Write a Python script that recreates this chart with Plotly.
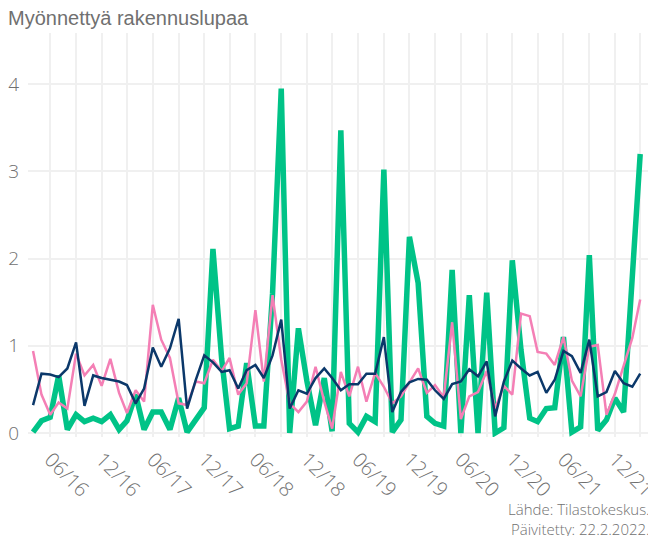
import pandas as pd
import plotly.graph_objects as go

months = pd.date_range("2016-04-01", periods=72, freq="MS")

green_vals = [0.01, 0.14, 0.18, 0.66, 0.04, 0.21, 0.13, 0.17, 0.13, 0.21, 0.04, 0.14,
              0.44, 0.04, 0.24, 0.24, 0.04, 0.40, 0.01, 0.16, 0.29, 2.11, 0.85, 0.05,
              0.08, 0.80, 0.08, 0.08, 1.60, 3.95, 0.00, 1.20, 0.60, 0.09, 0.63, 0.02,
              3.47, 0.11, 0.01, 0.19, 0.13, 3.02, 0.01, 0.15, 2.25, 1.72, 0.19, 0.11,
              0.08, 1.87, 0.00, 1.58, 0.00, 1.61, 0.00, 0.06, 1.98, 0.95, 0.17, 0.13,
              0.28, 0.29, 1.10, 0.01, 0.07, 2.04, 0.03, 0.15, 0.40, 0.24, 1.70, 3.20]

pink_vals = [0.94, 0.44, 0.21, 0.35, 0.28, 0.91, 0.66, 0.78, 0.54, 0.85, 0.46, 0.23,
             0.49, 0.36, 1.47, 1.07, 0.86, 0.34, 0.32, 0.59, 0.57, 0.84, 0.71, 0.86,
             0.44, 0.57, 1.41, 0.59, 1.58, 0.84, 0.34, 0.24, 0.36, 0.76, 0.36, 0.05,
             0.70, 0.42, 0.76, 0.36, 0.69, 0.53, 0.34, 0.42, 0.58, 0.74, 0.46, 0.55,
             0.41, 1.27, 0.16, 0.42, 0.47, 0.71, 0.28, 0.54, 0.44, 1.37, 1.34, 0.93,
             0.91, 0.78, 1.10, 0.60, 0.42, 0.99, 1.01, 0.21, 0.45, 0.76, 1.09, 1.53]

navy_vals = [0.32, 0.68, 0.67, 0.64, 0.74, 1.04, 0.31, 0.66, 0.63, 0.61, 0.59, 0.55,
             0.34, 0.51, 0.98, 0.76, 0.97, 1.31, 0.28, 0.61, 0.89, 0.81, 0.70, 0.72,
             0.51, 0.72, 0.78, 0.63, 0.89, 1.30, 0.28, 0.49, 0.45, 0.63, 0.74, 0.63,
             0.49, 0.56, 0.56, 0.68, 0.68, 1.10, 0.24, 0.47, 0.58, 0.62, 0.61, 0.49,
             0.39, 0.56, 0.59, 0.73, 0.65, 0.82, 0.19, 0.59, 0.83, 0.74, 0.66, 0.70,
             0.46, 0.61, 0.94, 0.88, 0.69, 1.07, 0.42, 0.47, 0.71, 0.57, 0.53, 0.68]

tick_dates = ["2016-06-01", "2016-12-01", "2017-06-01", "2017-12-01", "2018-06-01",
              "2018-12-01", "2019-06-01", "2019-12-01", "2020-06-01", "2020-12-01",
              "2021-06-01", "2021-12-01"]
tick_labels = ["06/16", "12/16", "06/17", "12/17", "06/18", "12/18",
               "06/19", "12/19", "06/20", "12/20", "06/21", "12/21"]

title_text = "Myönnettyä rakennuslupaa"
source_lines = ["Lähde: Tilastokeskus.", "Päivitetty: 22.2.2022."]

GREEN = "#00C387"
PINK = "#F47FB5"
NAVY = "#0B386A"
GRID = "#F0F0F0"
TXT = "#707070"

# page has an 8px body margin, so the figure is 8px smaller and offset
W, H = 648, 528
L, R, T, B = 20, 4, 25, 99
PH = H - T - B

fig = go.Figure()
fig.add_trace(go.Scatter(x=months, y=green_vals, mode="lines",
                         line=dict(color=GREEN, width=5.5), showlegend=False))
fig.add_trace(go.Scatter(x=months, y=pink_vals, mode="lines",
                         line=dict(color=PINK, width=2.5), showlegend=False))
fig.add_trace(go.Scatter(x=months, y=navy_vals, mode="lines",
                         line=dict(color=NAVY, width=2.5), showlegend=False))

fig.update_layout(
    width=W, height=H,
    margin=dict(l=L, r=R, t=T, b=B, autoexpand=False),
    paper_bgcolor="white", plot_bgcolor="white",
    title=dict(text=title_text, x=0, xanchor="left", xref="container",
               y=1-10/H, yanchor="middle", yref="container",
               font=dict(family="Liberation Sans, Arial", size=20, color=TXT)),
    xaxis=dict(
        type="date",
        range=["2016-03-14", "2022-04-12"],
        tickvals=tick_dates, ticktext=tick_labels,
        tickangle=45, automargin=False,
        ticklabeloverflow="allow",
        showgrid=True, gridcolor=GRID, gridwidth=1.5,
        minor=dict(dtick="M3", tick0="2016-03-01", showgrid=True,
                   gridcolor=GRID, gridwidth=1.5),
        zeroline=False, showline=False, ticks="",
        ticklabelstandoff=6,
        tickfont=dict(family="Open Sans", size=20, color=TXT, weight=300),
    ),
    yaxis=dict(
        range=[-0.046, 4.587],
        tickvals=[0, 1, 2, 3, 4], automargin=False,
        showgrid=True, gridcolor=GRID, gridwidth=2,
        zeroline=False, showline=False, ticks="",
        ticklabelstandoff=8,
        tickfont=dict(family="Open Sans", size=19, color=TXT, weight=300),
    ),
)

fig.add_annotation(text=source_lines[0] + "<br>" + source_lines[1],
                   xref="paper", yref="paper", align="right",
                   x=1, y=(PH + T - (519 - 8)) / PH, xanchor="right", yanchor="middle",
                   showarrow=False,
                   font=dict(family="Open Sans", size=15, color=TXT, weight=300))

fig.write_html("out.html")
